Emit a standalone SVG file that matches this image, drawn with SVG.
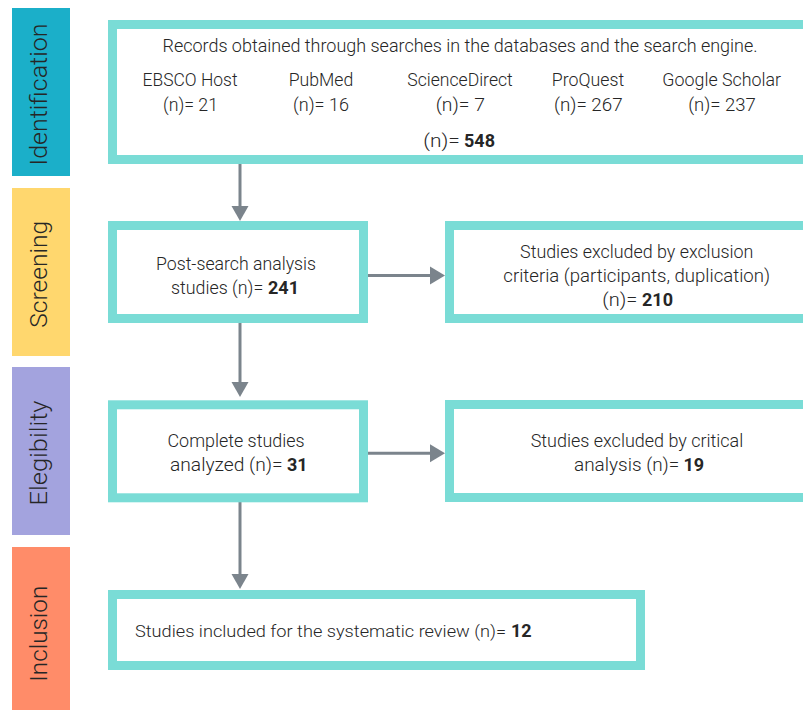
<svg xmlns="http://www.w3.org/2000/svg" width="803" height="710" viewBox="0 0 803 710">
<style>
.box{fill:#fff;stroke:#7ADCD6;stroke-width:9}
.t{font-family:Roboto,"Liberation Sans",sans-serif;font-size:19px;font-weight:300;fill:#262626;text-anchor:middle}
.s{text-anchor:start}
.b{font-weight:700;font-size:18px}
.side{font-family:Roboto,"Liberation Sans",sans-serif;font-size:23px;font-weight:300;fill:#262626;text-anchor:middle}
.conn{stroke:#7B848C;stroke-width:3;fill:none}
.head{fill:#7B848C}
</style>
<rect width="803" height="710" fill="#fff"/>
<g id="stage-identification">
<rect x="12" y="8" width="58" height="168" fill="#1BAFC9"/>
<text class="side" transform="translate(47,94.5) rotate(-90)" textLength="142" lengthAdjust="spacingAndGlyphs">Identification</text>
</g>
<g id="stage-screening">
<rect x="12" y="188" width="58" height="168" fill="#FFD76E"/>
<text class="side" transform="translate(47,274.3) rotate(-90)" textLength="107" lengthAdjust="spacingAndGlyphs">Screening</text>
</g>
<g id="stage-elegibility">
<rect x="12" y="367" width="58" height="168" fill="#A3A3DE"/>
<text class="side" transform="translate(47,453) rotate(-90)" textLength="105" lengthAdjust="spacingAndGlyphs">Elegibility</text>
</g>
<g id="stage-inclusion">
<rect x="12" y="547" width="58" height="170" fill="#FF8C69"/>
<text class="side" transform="translate(47,633.7) rotate(-90)" textLength="96" lengthAdjust="spacingAndGlyphs">Inclusion</text>
</g>
<g id="connectors">
<line class="conn" x1="240" y1="164" x2="240" y2="208"/>
<polygon class="head" points="231.5,206 248.5,206 240,221"/>
<line class="conn" x1="240" y1="323" x2="240" y2="384"/>
<polygon class="head" points="231.5,382 248.5,382 240,397"/>
<line class="conn" x1="240" y1="502" x2="240" y2="576"/>
<polygon class="head" points="231.5,574 248.5,574 240,589"/>
<line class="conn" x1="368" y1="275.5" x2="432" y2="275.5"/>
<polygon class="head" points="430,266.5 430,284.5 445,275.5"/>
<line class="conn" x1="368" y1="453.3" x2="432" y2="453.3"/>
<polygon class="head" points="430,444.3 430,462.3 445,453.3"/>
</g>
<g id="node-records">
<rect class="box" x="112.5" y="24.5" width="720" height="135"/>
<text class="t" x="460" y="52" textLength="595" lengthAdjust="spacingAndGlyphs">Records obtained through searches in the databases and the search engine.</text>
<text class="t" x="190" y="86" textLength="95" lengthAdjust="spacingAndGlyphs">EBSCO Host</text>
<text class="t" x="190.5" y="111" textLength="55" lengthAdjust="spacingAndGlyphs">(n)= 21</text>
<text class="t" x="321" y="86" textLength="64.6" lengthAdjust="spacingAndGlyphs">PubMed</text>
<text class="t" x="321" y="111" textLength="56" lengthAdjust="spacingAndGlyphs">(n)= 16</text>
<text class="t" x="460" y="86" textLength="105.4" lengthAdjust="spacingAndGlyphs">ScienceDirect</text>
<text class="t" x="460.3" y="111" textLength="49.3" lengthAdjust="spacingAndGlyphs">(n)= 7</text>
<text class="t" x="588" y="86" textLength="72.3" lengthAdjust="spacingAndGlyphs">ProQuest</text>
<text class="t" x="588.3" y="111" textLength="68.7" lengthAdjust="spacingAndGlyphs">(n)= 267</text>
<text class="t" x="721.7" y="86" textLength="118.7" lengthAdjust="spacingAndGlyphs">Google Scholar</text>
<text class="t" x="722" y="111" textLength="67.7" lengthAdjust="spacingAndGlyphs">(n)= 237</text>
<text class="t s" x="423.3" y="146.7" textLength="36.5" lengthAdjust="spacingAndGlyphs">(n)=</text>
<text class="t s b" x="464" y="146.7">548</text>
</g>
<g id="node-post-search">
<rect class="box" x="112.5" y="225.5" width="251" height="93"/>
<text class="t" x="236" y="270" textLength="160" lengthAdjust="spacingAndGlyphs">Post-search analysis</text>
<text class="t s" x="171" y="294.3" textLength="92.3" lengthAdjust="spacingAndGlyphs">studies (n)=</text>
<text class="t s b" x="268" y="294.3">241</text>
</g>
<g id="node-excluded-criteria">
<rect class="box" x="449.5" y="225.5" width="400" height="93"/>
<text class="t" x="636.7" y="258.3" textLength="233.3" lengthAdjust="spacingAndGlyphs">Studies excluded by exclusion</text>
<text class="t" x="636.7" y="281.5" textLength="266.7" lengthAdjust="spacingAndGlyphs">criteria (participants, duplication)</text>
<text class="t s" x="602.3" y="306" textLength="35" lengthAdjust="spacingAndGlyphs">(n)=</text>
<text class="t s b" x="642" y="306">210</text>
</g>
<g id="node-complete">
<rect class="box" x="112.5" y="404.8" width="251" height="93"/>
<text class="t" x="236" y="447.3" textLength="137" lengthAdjust="spacingAndGlyphs">Complete studies</text>
<text class="t s" x="170" y="471" textLength="112.7" lengthAdjust="spacingAndGlyphs">analyzed (n)=</text>
<text class="t s b" x="287" y="471">31</text>
</g>
<g id="node-excluded-critical">
<rect class="box" x="449.5" y="404.5" width="400" height="93"/>
<text class="t" x="637" y="447.3" textLength="212.6" lengthAdjust="spacingAndGlyphs">Studies excluded by critical</text>
<text class="t s" x="574" y="471" textLength="105.3" lengthAdjust="spacingAndGlyphs">analysis (n)=</text>
<text class="t s b" x="683.5" y="471">19</text>
</g>
<g id="node-included">
<rect class="box" x="112.5" y="594.5" width="528" height="71"/>
<text class="t s" x="135" y="636.7" style="font-size:17.2px" textLength="371" lengthAdjust="spacingAndGlyphs">Studies included for the systematic review (n)=</text>
<text class="t s b" x="511" y="636.7">12</text>
</g>
</svg>
